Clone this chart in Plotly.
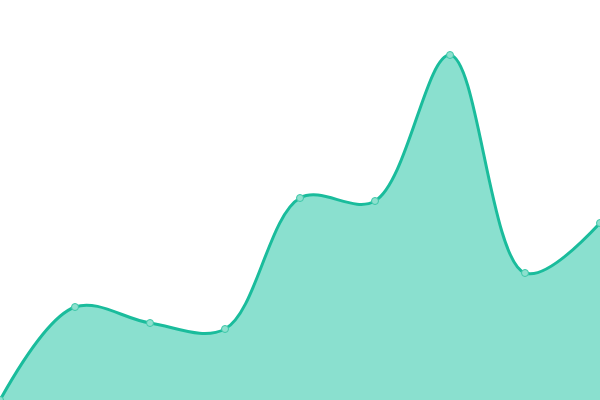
import plotly.graph_objects as go

x_vals = [0, 1, 2, 3, 4, 5, 6, 7, 8]
y_vals = [0, 93, 77, 71, 202, 199, 345, 127, 177]

line_color = "#1abc9c"

fig = go.Figure()
fig.add_trace(go.Scatter(
    x=x_vals,
    y=y_vals,
    mode="lines+markers",
    fill="tozeroy",
    fillcolor="rgba(26,195,160,0.51)",
    line=dict(color=line_color, width=3, shape="spline", smoothing=1),
    marker=dict(size=7, color="rgba(141,224,206,1)", line=dict(color="#3cc7a8", width=1)),
    cliponaxis=False,
))

fig.update_layout(
    width=600,
    height=400,
    margin=dict(l=0, r=0, t=0, b=0),
    plot_bgcolor="white",
    paper_bgcolor="white",
    showlegend=False,
    xaxis=dict(range=[0, 8], visible=False, fixedrange=True),
    yaxis=dict(range=[0, 400], visible=False, fixedrange=True),
)

# drop the default page margin so the chart sits at the top-left corner
fig.write_html(
    "out.html",
    config={"displayModeBar": False},
    post_script="document.body.style.margin='0';document.body.style.overflow='hidden';",
)
